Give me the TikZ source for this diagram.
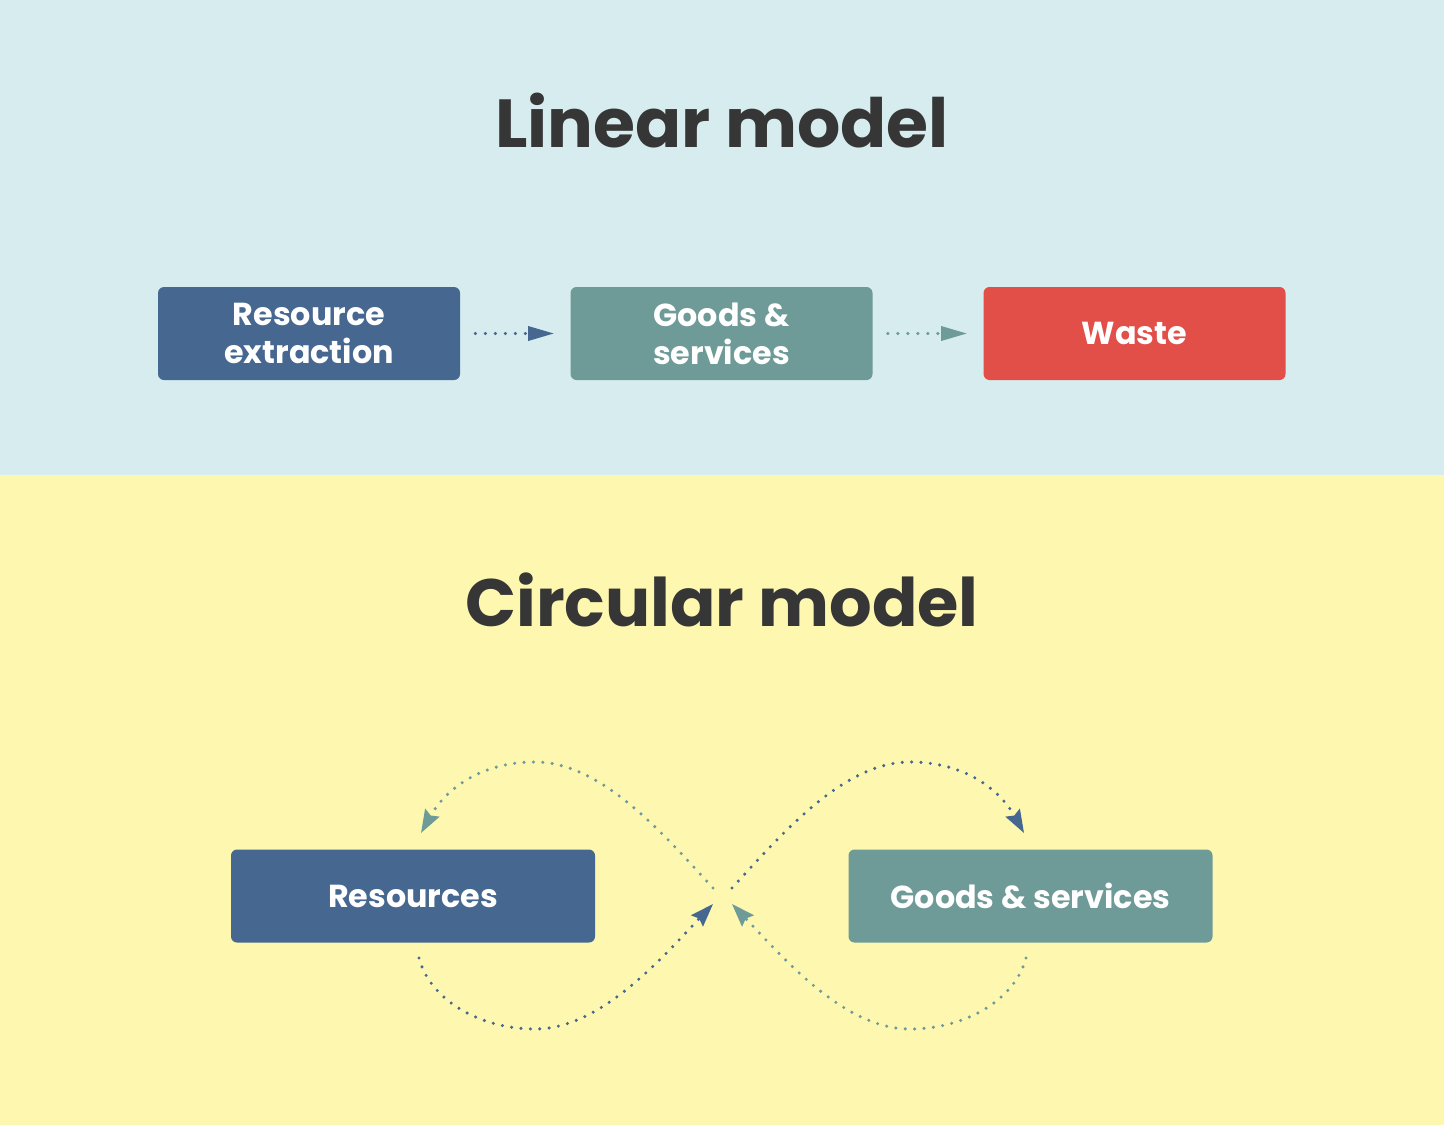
\documentclass[tikz,border=0pt]{standalone}
\usepackage{fontspec}
\setmainfont{Poppins}
\usetikzlibrary{arrows.meta}

\definecolor{skyband}{HTML}{D6ECEE}
\definecolor{sandband}{HTML}{FDF7B0}
\definecolor{slateblue}{HTML}{46678F}
\definecolor{seateal}{HTML}{6E9A98}
\definecolor{brickred}{HTML}{E24E48}
\definecolor{inkgray}{HTML}{363636}

\begin{document}
\begin{tikzpicture}[%
        x = 0.5pt, y = -0.5pt,
        > = {Triangle[length = 13pt, width = 7pt]},
        line cap = round,
        box/.style = {rounded corners = 3pt, text = white, align = center,
            inner sep = 0pt, minimum height = 46.5pt,
            font = \bfseries\fontsize{15.9}{19}\selectfont},
        heading/.style = {text = inkgray, font = \bfseries\fontsize{34}{40}\selectfont},
        flow/.style = {->, line width = 1.7pt, dash pattern = on 0pt off 5pt,
            shorten < = 7.5pt, shorten > = 8pt},
        loop/.style = {-{Stealth[length = 11.5pt, width = 8pt, inset = 1.5pt]},
            line width = 1.7pt, dash pattern = on 0pt off 4.7pt}
    ]

        % Background bands, they also fix the size of the page.
        \fill[skyband] (0, 0) rectangle (1444, 475);
        \fill[sandband] (0, 475) rectangle (1444, 1125);
        \useasboundingbox (0, 0) rectangle (1444, 1125);

        % Linear model.
        \node[heading] (lin-title) at (722, 121) {Linear model};

        \node[box, fill = slateblue, minimum width = 151pt] (extract) at (309, 333.5) {Resource\\extraction};
        \node[box, fill = seateal, minimum width = 151pt] (goods) at (721.5, 333.5) {Goods \&\\services};
        \node[box, fill = brickred, minimum width = 151pt] (waste) at (1134.5, 333.5) {Waste};

        \draw[flow, slateblue] (extract) to (goods);
        \draw[flow, seateal] (goods) to (waste);

        % Circular model.
        \node[heading, font = \bfseries\fontsize{33.5}{40}\selectfont] (circ-title) at (722, 600) {Circular model};

        \node[box, fill = slateblue, minimum width = 182pt] (res) at (413, 896) {Resources};
        \node[box, fill = seateal, minimum width = 182pt] (goods2) at (1030.5, 896) {Goods \& services};

        % coordinates for the ends and turning points of the two loops.
        \coordinate (LT) at (713, 888);
        \coordinate (LB) at (713, 904);
        \coordinate (RT) at (732, 888);
        \coordinate (RB) at (732, 904);
        \coordinate (res-in) at (421, 833);
        \coordinate (res-out) at (419, 958);
        \coordinate (goods-in) at (1024, 833);
        \coordinate (goods-out) at (1026, 958);
        \coordinate (L-top) at (535, 762);
        \coordinate (L-bot) at (535, 1029);
        \coordinate (R-top) at (910, 762);
        \coordinate (R-bot) at (910, 1029);

        % Left loop.
        \draw[loop, seateal]
            (LT) .. controls (660, 830) and (600, 762) ..
            (L-top) .. controls (480, 762) and (445, 790) .. (res-in);
        \draw[loop, slateblue]
            (res-out) .. controls (430, 1000) and (480, 1029) ..
            (L-bot) .. controls (600, 1029) and (660, 960) .. (LB);

        % Right loop.
        \draw[loop, slateblue]
            (RT) .. controls (785, 830) and (845, 762) ..
            (R-top) .. controls (965, 762) and (1000, 790) .. (goods-in);
        \draw[loop, seateal]
            (goods-out) .. controls (1015, 1000) and (965, 1029) ..
            (R-bot) .. controls (845, 1029) and (785, 960) .. (RB);
    \end{tikzpicture}
\end{document}
